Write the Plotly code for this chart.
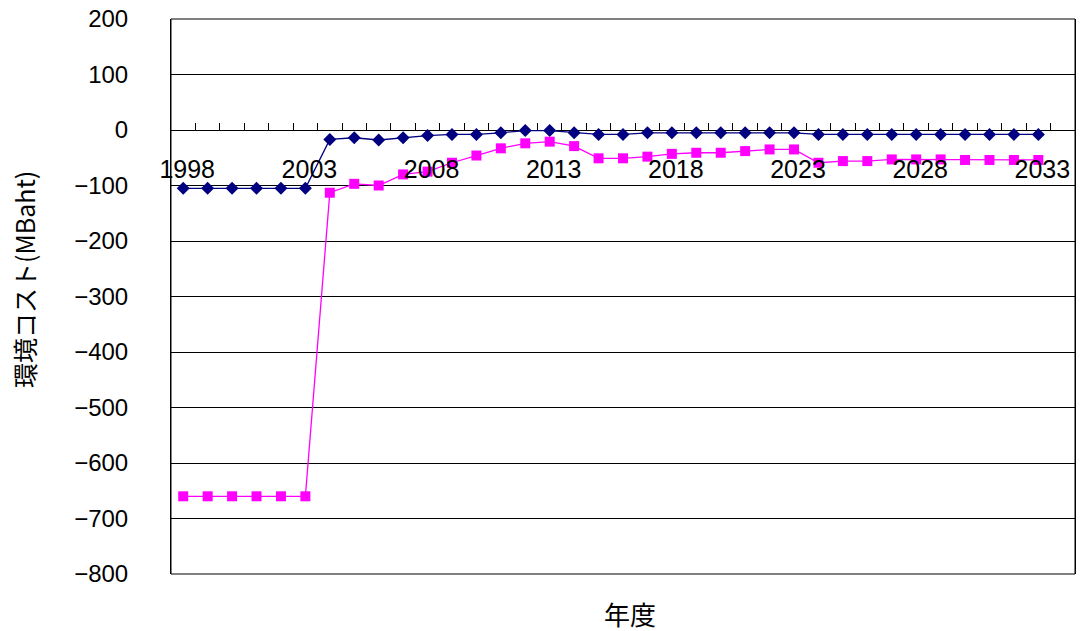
import plotly.graph_objects as go

# Fiscal years and environmental cost (MBaht) for the two cases
years = list(range(1998, 2034))
cost_case_a = [-105, -105, -105, -105, -105, -105,
               -17, -14, -18, -14, -10, -8, -8, -5, -1, -1, -5, -8, -8, -5,
               -5, -5, -5, -5, -5, -5,
               -8, -8, -8, -8, -8, -8, -8, -8, -8, -8]
cost_case_b = [-660, -660, -660, -660, -660, -660,
               -113, -97, -100, -80, -75, -59, -46, -33, -24, -21, -29, -51, -51, -48,
               -43, -41, -41, -38, -35, -35,
               -59, -56, -56, -53, -53, -53, -54, -54, -54, -54]
label_years = [1998, 2003, 2008, 2013, 2018, 2023, 2028, 2033]
y_ticks = [200, 100, 0, -100, -200, -300, -400, -500, -600, -700, -800]

x_lo, x_hi = years[0] - 0.5, years[-1] + 1.5
boundaries = [x_lo + i for i in range(int(x_hi - x_lo) + 1)]

num_font = dict(family="Liberation Sans, Arial, sans-serif", size=24, color="black")
xnum_font = dict(family="Liberation Sans, Arial, sans-serif", size=25, color="black")

fig = go.Figure()
fig.add_trace(go.Scatter(
    x=years, y=cost_case_a, mode="lines+markers",
    line=dict(color="#000080", width=1.3),
    marker=dict(symbol="diamond", size=10, color="#000080"),
    showlegend=False,
))
fig.add_trace(go.Scatter(
    x=years, y=cost_case_b, mode="lines+markers",
    line=dict(color="#FF00FF", width=1.3),
    marker=dict(symbol="square", size=10, color="#FF00FF"),
    showlegend=False,
))
# invisible trace bound to the label axis so it is rendered
fig.add_trace(go.Scatter(x=[years[0]], y=[None], xaxis="x2", showlegend=False,
                         hoverinfo="skip"))

zero_pos = (0 - y_ticks[-1]) / (y_ticks[0] - y_ticks[-1])

fig.update_layout(
    width=1087, height=631,
    margin=dict(l=171, r=12, t=19, b=57, autoexpand=False),
    paper_bgcolor="white", plot_bgcolor="white",
    xaxis=dict(
        range=[x_lo, x_hi], anchor="free", position=zero_pos,
        tickmode="array", tickvals=boundaries, ticks="inside", ticklen=7,
        tickcolor="black", tickwidth=1, showticklabels=False,
        showgrid=False, zeroline=False, showline=False, automargin=False,
    ),
    xaxis2=dict(
        range=[x_lo, x_hi], overlaying="x", anchor="free", position=zero_pos,
        side="bottom", tickmode="array", tickvals=label_years,
        ticktext=[str(v) for v in label_years], ticks="",
        tickfont=xnum_font, ticklabelstandoff=22, ticklabelshift=4,
        automargin=False, showgrid=False, zeroline=False, showline=False,
    ),
    yaxis=dict(
        range=[y_ticks[-1], y_ticks[0]], tickmode="array", tickvals=y_ticks,
        tickfont=num_font, ticks="", ticklabelstandoff=37, automargin=False,
        showgrid=True, gridcolor="black", gridwidth=1,
        zeroline=False, showline=True, linecolor="black", linewidth=1,
        mirror=True,
    ),
    shapes=[dict(type="rect", xref="paper", yref="paper", x0=0, x1=1, y0=0, y1=1,
                 line=dict(color="black", width=1), layer="above")],
    annotations=[
        dict(text="環境コスト(MBaht)", xref="paper", yref="paper",
             x=-147 / 904, y=(574 - 280) / 555, textangle=-90,
             showarrow=False,
             font=dict(family="Noto Sans CJK JP, sans-serif", size=25, color="black"),
             xanchor="center", yanchor="middle"),
        dict(text="年度", xref="paper", yref="paper",
             x=(630 - 171) / 904, y=-(613 - 574) / 555,
             showarrow=False,
             font=dict(family="Noto Sans CJK JP, sans-serif", size=26, color="black"),
             xanchor="center", yanchor="middle"),
    ],
)

fig.write_html("out.html")
